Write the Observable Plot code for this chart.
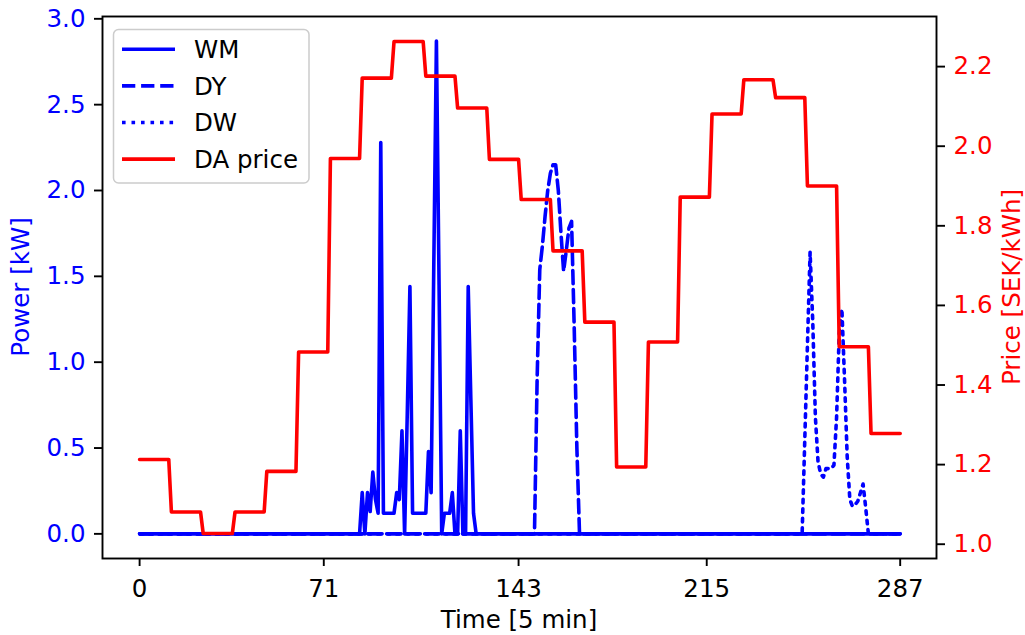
<!DOCTYPE html>
<html>
<head>
<meta charset="utf-8">
<script src="https://cdn.jsdelivr.net/npm/d3@7"></script>
<script src="https://cdn.jsdelivr.net/npm/@observablehq/plot@0.6"></script>
<style>
  body { margin: 0; background: #ffffff; }
  #wrap { width: 1025px; height: 635px; }
</style>
</head>
<body>
<div id="wrap"></div>
<script>
// ---------------- data ----------------
const nSteps = 288; // 5-minute steps in a day (0..287)

// Day-ahead price, one value per hour [SEK/kWh]
const hourlyPrice = [1.213, 1.081, 1.027, 1.081, 1.183, 1.483, 1.969, 2.171,
                     2.263, 2.176, 2.096, 1.967, 1.866, 1.737, 1.558, 1.194,
                     1.508, 1.872, 2.081, 2.167, 2.122, 1.900, 1.496, 1.278];

// WM (washing machine) power [kW], starting at step wmStart, zero elsewhere
const wmStart = 83;
const wmValues = [0, 0.24, 0, 0.24, 0.13, 0.36, 0.2, 0.12, 2.28, 0.12,
                  0.12, 0.12, 0.12, 0.12, 0.24, 0.2, 0.6, 0, 0.7, 1.44,
                  0.12, 0.12, 0.12, 0.12, 0.12, 0.12, 0.48, 0.24, 1.55, 2.87,
                  1.45, 0, 0.12, 0.12, 0.12, 0.24, 0, 0, 0.6, 0,
                  0, 1.44, 0.78, 0.12, 0];

// DY (dryer) power [kW]
const dyStart = 148;
const dyValues = [0, 0, 0.9, 1.54, 1.68, 1.85, 2.0, 2.1, 2.15, 2.15,
                  2.0, 1.75, 1.53, 1.65, 1.78, 1.82, 1.2, 0.5, 0];

// DW (dishwasher) power [kW]
const dwStart = 249;
const dwValues = [0, 0, 0.55, 1.1, 1.64, 1.24, 0.68, 0.42, 0.35, 0.33,
                  0.38, 0.38, 0.38, 0.4, 0.68, 1.17, 1.31, 0.9, 0.45, 0.2,
                  0.16, 0.17, 0.19, 0.24, 0.29, 0.15, 0];

// axes
const xTickPos = [0, 69.5, 143, 214, 287];
const xTickLabels = ["0", "71", "143", "215", "287"];
const powerTicks = [0, 0.5, 1.0, 1.5, 2.0, 2.5, 3.0];
const priceTicks = [1.0, 1.2, 1.4, 1.6, 1.8, 2.0, 2.2];
const legendNames = ["WM", "DY", "DW", "DA price"];

// ---------------- build tables ----------------
const powerDomain = [-0.1435, 3.0135];
const priceDomain = [0.9641, 2.3259];
const toPow = p => powerDomain[0] + (p - priceDomain[0]) * (powerDomain[1] - powerDomain[0]) / (priceDomain[1] - priceDomain[0]);
const fromPow = v => priceDomain[0] + (v - powerDomain[0]) * (priceDomain[1] - priceDomain[0]) / (powerDomain[1] - powerDomain[0]);

const series = (start, vals) => d3.range(nSteps).map(t => ({
  t, v: (t >= start && t < start + vals.length) ? vals[t - start] : 0
}));
const wm = series(wmStart, wmValues);
const dy = series(dyStart, dyValues);
const dw = series(dwStart, dwValues);
const price = hourlyPrice.flatMap((p, h) => [{t: 12 * h, p}, {t: 12 * h + 11, p}]);
const xLabelMap = new Map(xTickPos.map((p, i) => [p, xTickLabels[i]]));

const BLUE = "#0000ff", RED = "#ff0000";
const LW = 3.6;
const DASH = "13.3,5.8", DOT = "3.6,5.9";
const FONT = '"DejaVu Sans", sans-serif';
const FS = 24.5;

const chart = Plot.plot({
  width: 1025,
  height: 635,
  marginLeft: 102,
  marginRight: 89,
  marginTop: 16,
  marginBottom: 77,
  style: {fontFamily: FONT, fontSize: FS + "px", background: "white", color: "black"},
  x: {domain: [-14, 300.7]},
  y: {domain: powerDomain},
  marks: [
    Plot.line(wm, {x: "t", y: "v", stroke: BLUE, strokeWidth: LW}),
    Plot.line(dy, {x: "t", y: "v", stroke: BLUE, strokeWidth: LW, strokeDasharray: DASH}),
    Plot.line(dw, {x: "t", y: "v", stroke: BLUE, strokeWidth: LW, strokeDasharray: DOT}),
    Plot.line(price, {x: "t", y: d => toPow(d.p), stroke: RED, strokeWidth: LW}),
    Plot.frame({stroke: "black", strokeWidth: 1.9}),
    Plot.axisX(xTickPos, {anchor: "bottom", tickSize: 8, tickPadding: 13.5, strokeWidth: 1.9,
      stroke: "black", fill: "black", label: null, tickFormat: d => xLabelMap.get(d)}),
    Plot.axisY(powerTicks, {anchor: "left", tickSize: 8, tickPadding: 9, strokeWidth: 1.9,
      stroke: "black", fill: BLUE, label: null, tickFormat: d => d.toFixed(1)}),
    Plot.axisY(priceTicks.map(toPow), {anchor: "right", tickSize: 8, tickPadding: 9, strokeWidth: 1.9,
      stroke: "black", fill: RED, label: null, tickFormat: d => fromPow(d).toFixed(1)})
  ]
});

const svg = d3.select(chart);

// axis titles
svg.append("text").attr("x", 519).attr("y", 628)
  .attr("text-anchor", "middle").attr("fill", "black")
  .style("font-family", FONT).style("font-size", FS + "px")
  .text("Time [5 min]");
svg.append("text").attr("transform", "translate(29,287) rotate(-90)")
  .attr("text-anchor", "middle").attr("fill", BLUE)
  .style("font-family", FONT).style("font-size", FS + "px")
  .text("Power [kW]");
svg.append("text").attr("transform", "translate(1020,287) rotate(-90)")
  .attr("text-anchor", "middle").attr("fill", RED)
  .style("font-family", FONT).style("font-size", FS + "px")
  .text("Price [SEK/kWh]");

// legend
const lg = svg.append("g");
lg.append("rect").attr("x", 113.5).attr("y", 29.5).attr("width", 195.5).attr("height", 153.5)
  .attr("rx", 5).attr("fill", "white").attr("fill-opacity", 0.8)
  .attr("stroke", "#cccccc").attr("stroke-width", 1.5);
const legendStyles = [
  {stroke: BLUE, dash: null},
  {stroke: BLUE, dash: DASH},
  {stroke: BLUE, dash: DOT},
  {stroke: RED, dash: null}
];
legendNames.forEach((name, i) => {
  const cy = 49.3 + i * 36.6;
  const st = legendStyles[i];
  const ln = lg.append("line").attr("x1", 122).attr("x2", 175).attr("y1", cy).attr("y2", cy)
    .attr("stroke", st.stroke).attr("stroke-width", LW);
  if (st.dash) ln.attr("stroke-dasharray", st.dash);
  lg.append("text").attr("x", 194).attr("y", cy + 8.8).attr("fill", "black")
    .attr("text-anchor", "start")
    .style("font-family", FONT).style("font-size", FS + "px")
    .text(name);
});

document.getElementById("wrap").appendChild(chart);
</script>
</body>
</html>
